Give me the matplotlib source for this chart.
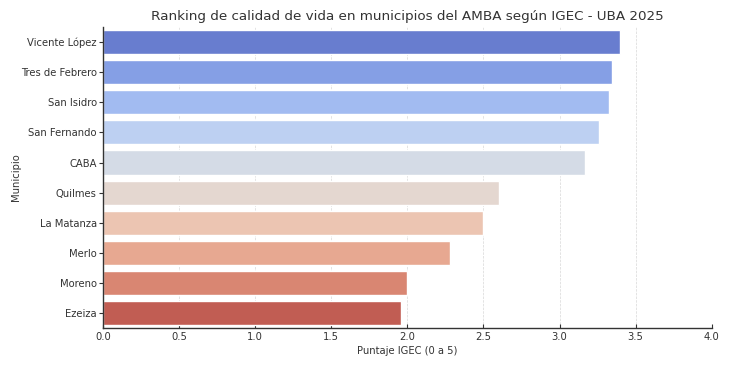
import matplotlib
matplotlib.use("Agg")
import matplotlib.pyplot as plt
import seaborn as sns

municipios = ["Vicente López", "Tres de Febrero", "San Isidro", "San Fernando", "CABA",
              "Quilmes", "La Matanza", "Merlo", "Moreno", "Ezeiza"]
puntajes = [3.40, 3.345, 3.325, 3.26, 3.17, 2.60, 2.50, 2.28, 2.00, 1.96]

# seaborn barplot tones down the palette (saturation=0.75)
colores = [sns.desaturate(c, 0.75) for c in sns.color_palette("coolwarm", len(municipios))]

plt.rcParams['font.family'] = ['DejaVu Sans']
fig = plt.figure(figsize=(7.3, 3.65), dpi=100)
ax = fig.add_axes([0.141, 0.101, 0.834, 0.825])

ax.barh(range(len(municipios)), puntajes, height=0.8, color=colores,
        edgecolor="white", linewidth=1, zorder=2)

ax.set_yticks(range(len(municipios)))
ax.set_yticklabels(municipios)
ax.set_ylim(len(municipios) - 0.5, -0.5)
ax.set_xlim(0, 4.0)
ax.set_xticks([0, 0.5, 1.0, 1.5, 2.0, 2.5, 3.0, 3.5, 4.0])

ax.grid(axis="x", color="#d8d8d8", linestyle="--", linewidth=0.5, zorder=0)
ax.set_axisbelow(True)
for s in ["top", "right"]:
    ax.spines[s].set_visible(False)
for s in ["left", "bottom"]:
    ax.spines[s].set_color("#333333")
    ax.spines[s].set_linewidth(1.0)

ax.tick_params(axis="both", labelsize=7.2, colors="#333333", width=0.8)
ax.tick_params(axis="y", length=3, pad=1.5)
ax.tick_params(axis="x", direction="in", length=3, pad=3)
ax.set_xlabel("Puntaje IGEC (0 a 5)", fontsize=7.2, color="#333333", labelpad=3)
ax.set_ylabel("Municipio", fontsize=7.2, color="#333333", labelpad=0)
ax.set_title("Ranking de calidad de vida en municipios del AMBA según IGEC - UBA 2025",
             fontsize=9.7, color="#333333", pad=5)

fig.savefig("out.png", dpi=100)
